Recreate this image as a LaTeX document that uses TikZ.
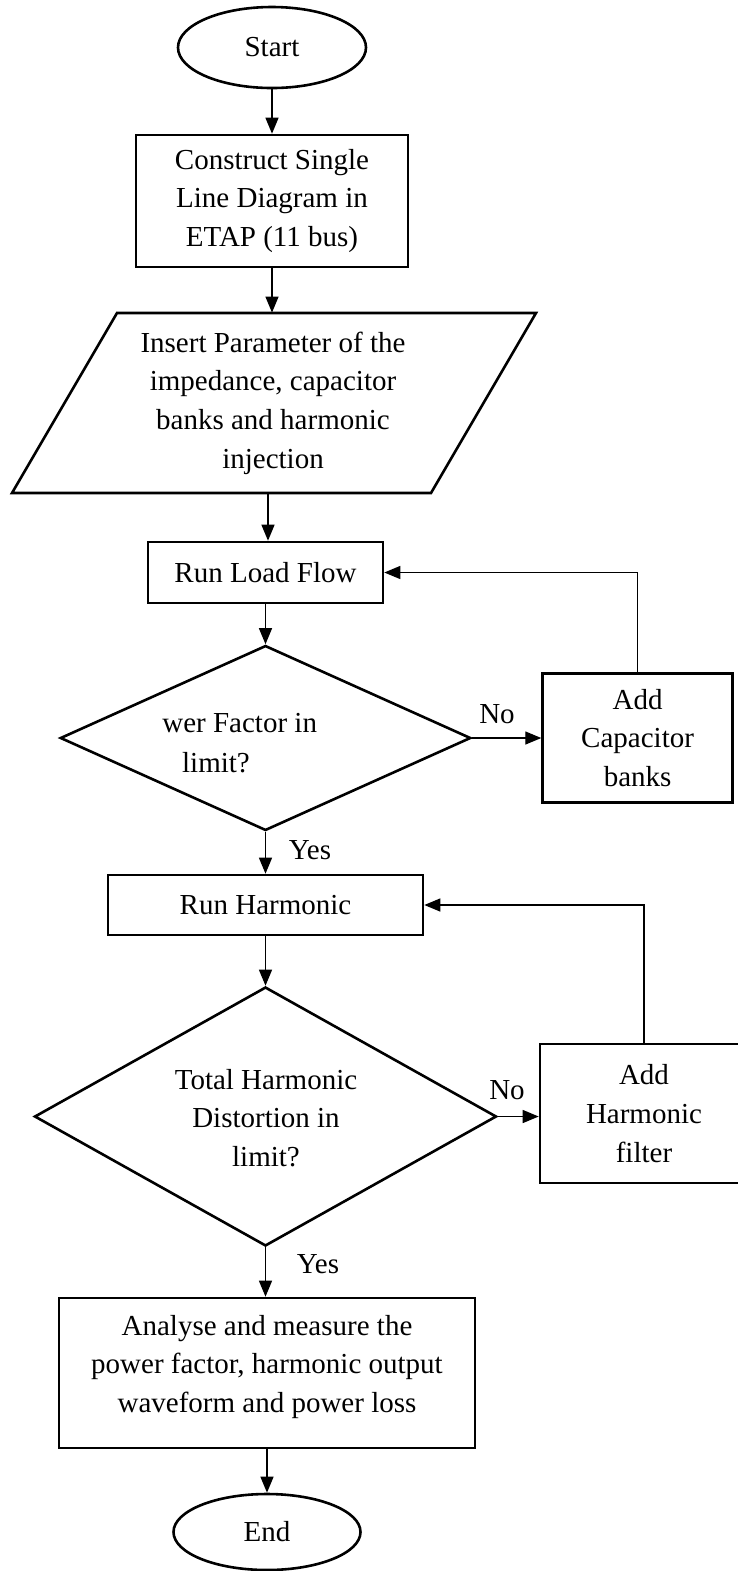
\documentclass[tikz,border=0pt]{standalone}
\usepackage{fontspec}
\setmainfont{Liberation Serif}
\usetikzlibrary{shapes.geometric,arrows.meta}
\tikzset{
  txt/.style={font=\fontsize{14.5}{19.3}\selectfont, align=center},
  shp/.style={draw, line width=1.3pt, inner sep=0pt, txt},
  boxnode/.style={shp, rectangle},
  ovalnode/.style={shp, ellipse},
  decnode/.style={shp, diamond},
  conn/.style={line width=0.65pt, -{Triangle[length=8pt,width=6.5pt]}},
  lbl/.style={txt, inner sep=0pt}
}
\begin{document}
\begin{tikzpicture}[x=0.5pt,y=-0.5pt]
\useasboundingbox (0,0) rectangle (738,1571);
% nodes
\node[ovalnode, minimum width=94pt, minimum height=40.5pt] (start) at (272,47.5) {Start};
\node[boxnode, minimum width=136pt, minimum height=66pt] (construct) at (272,201) {Construct Single\\Line Diagram in\\ETAP (11 bus)};
\draw[line width=1.3pt, line join=miter] (117,313) -- (536,313) -- (431,493) -- (12,493) -- cycle;
\node[txt, inner sep=0pt, minimum height=90pt] (insert) at (273,403) {Insert Parameter of the\\impedance, capacitor\\banks and harmonic\\injection};
\node[boxnode, minimum width=117.5pt, minimum height=30.5pt] (rlf) at (265.5,572.5) {Run Load Flow};
\node[decnode, minimum width=205.25pt, minimum height=92.5pt] (d1) at (265.5,738) {};
\node[lbl, anchor=west] (d1a) at (162,723) {wer Factor in};
\node[lbl] (d1b) at (216,763) {limit?};
\node[boxnode, minimum width=95pt, minimum height=64.5pt] (acb) at (637.6,738) {Add\\Capacitor\\banks};
\node[boxnode, minimum width=157.5pt, minimum height=30pt] (rh) at (265.5,905) {Run Harmonic};
\node[decnode, minimum width=231pt, minimum height=129.5pt] (d2) at (265.5,1116.5) {};
\node[lbl] (d2t) at (266,1118) {Total Harmonic\\Distortion in\\limit?};
\node[boxnode, minimum width=104pt, minimum height=69.5pt] (ahf) at (644,1113.5) {Add\\Harmonic\\filter};
\node[boxnode, minimum width=208pt, minimum height=75pt] (analyse) at (267,1373) {};
\node[lbl] (analyseT) at (267,1367) {Analyse and measure the\\power factor, harmonic output\\waveform and power loss};
\node[ovalnode, minimum width=93.5pt, minimum height=38pt] (end) at (267,1532) {End};
% labels
\node[lbl] (no1) at (497,714) {No};
\node[lbl] (yes1) at (310,850) {Yes};
\node[lbl] (no2) at (507,1090) {No};
\node[lbl] (yes2) at (318,1264) {Yes};
% connectors
\draw[conn] (start.south) -- (construct.north);
\draw[conn] (construct.south) -- (construct.south |- insert.north);
\draw[conn] (268,493) coordinate (insOut) -- (insOut |- rlf.north);
\draw[conn] (rlf.south) -- (rlf.south |- d1.north);
\draw[conn] (d1.east) -- (d1.east -| acb.west);
\draw[conn] (acb.north) |- (rlf.east);
\draw[conn] (d1.south) -- (d1.south |- rh.north);
\draw[conn] (rh.south) -- (rh.south |- d2.north);
\draw[conn] (d2.east) -- (d2.east -| ahf.west);
\draw[conn] (ahf.north) |- (rh.east);
\draw[conn] (d2.south) -- (d2.south |- analyse.north);
\draw[conn] (analyse.south) -- (end.north);
\end{tikzpicture}
\end{document}
